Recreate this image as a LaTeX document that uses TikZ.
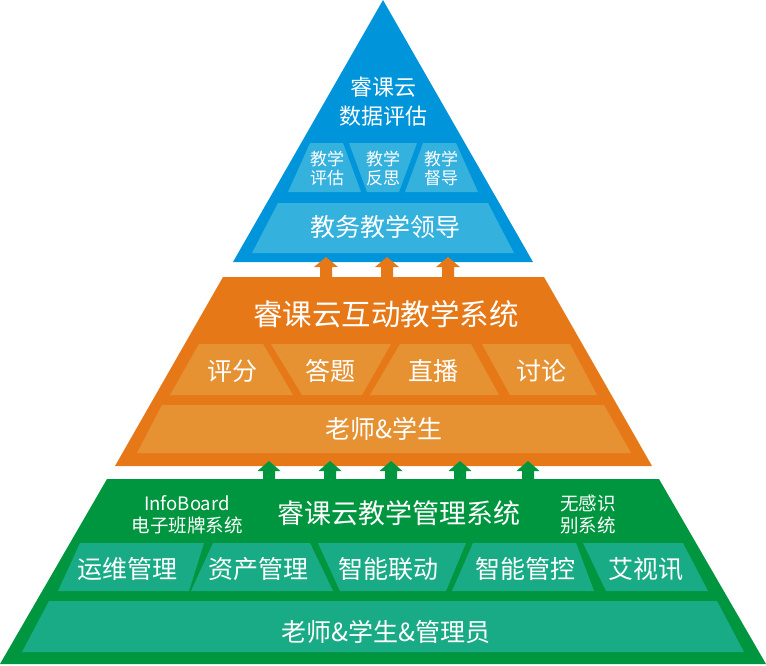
\documentclass[tikz,border=0pt]{standalone}
\usepackage{fontspec}
\usepackage{tikz}
\newfontfamily\cjk{Noto Sans CJK SC}
\definecolor{bluedark}{RGB}{0, 149, 218}
\definecolor{bluelight}{RGB}{52, 177, 221}
\definecolor{orangedark}{RGB}{230, 120, 24}
\definecolor{orangelight}{RGB}{230, 146, 51}
\definecolor{greendark}{RGB}{0, 150, 63}
\definecolor{greenlight}{RGB}{25, 171, 134}
\tikzset{
  lbl/.style={text=white, inner sep=0pt, align=center, font=\cjk\fontsize{25}{30}\selectfont},
  headlbl/.style={lbl, font=\cjk\fontsize{27}{32}\selectfont},
  smalllbl/.style={lbl, font=\cjk\fontsize{17}{19}\selectfont},
  notelbl/.style={lbl, font=\cjk\fontsize{18.5}{22}\selectfont}
}
\begin{document}
\begin{tikzpicture}[x=1pt, y=-1pt]
            \useasboundingbox (0,0) rectangle (766,665);
            \fill[bluedark]    (383,0) -- (533,262) -- (233,262) -- cycle;
            \fill[bluelight]   (278,203) -- (488,203) -- (514,253) -- (252,253) -- cycle;
            \fill[bluelight]   (310,143) -- (343,143) -- (361,192) -- (288,192) -- cycle;
            \fill[bluelight]   (349,143) -- (417,143) -- (399,192) -- (367,192) -- cycle;
            \fill[bluelight]   (423,143) -- (456,143) -- (478,192) -- (405,192) -- cycle;
            \fill[orangedark]  (223,277) -- (544,277) -- (652,466) -- (115,466) -- cycle;
            \fill[orangelight] (199,344) -- (263,344) -- (293,395) -- (170,395) -- cycle;
            \fill[orangelight] (271,344) -- (391,344) -- (362,395) -- (302,395) -- cycle;
            \fill[orangelight] (400,344) -- (471,344) -- (499,395) -- (370,395) -- cycle;
            \fill[orangelight] (482,344) -- (570,344) -- (597,395) -- (510,395) -- cycle;
            \fill[orangelight] (162,405) -- (604,405) -- (631,453) -- (137,453) -- cycle;
            \fill[greendark]   (107,479) -- (659,479) -- (766,664) -- (0,664) -- cycle;
            \fill[greenlight]  (80,543) -- (204,543) -- (189,591) -- (58,591) -- cycle;
            \fill[greenlight]  (213,543) -- (310,543) -- (333,591) -- (191,591) -- cycle;
            \fill[greenlight]  (318,543) -- (466,543) -- (446,591) -- (340,591) -- cycle;
            \fill[greenlight]  (473,543) -- (576,543) -- (594,591) -- (452,591) -- cycle;
            \fill[greenlight]  (583,543) -- (683,543) -- (708,591) -- (606,591) -- cycle;
            \fill[greenlight]  (49,601) -- (717,601) -- (744,652) -- (22,652) -- cycle;
            \foreach \ax in {326,387,448}
                \fill[orangedark] (\ax-6,277) -- (\ax-6,267) -- (\ax-12,267) -- (\ax,257)
                    -- (\ax+12,267) -- (\ax+6,267) -- (\ax+6,277) -- cycle;
            \foreach \ax in {269,330,391,460,528}
                \fill[greendark] (\ax-6,479) -- (\ax-6,471) -- (\ax-11.5,471) -- (\ax,461)
                    -- (\ax+11.5,471) -- (\ax+6,471) -- (\ax+6,479) -- cycle;
            \node[lbl, font=\cjk\fontsize{22}{29}\selectfont] (evaltitle) at (383,102) {睿课云\\数据评估};
            \node[smalllbl] (evalassess)  at (327,168) {教学\\评估};
            \node[smalllbl] (evalreflect) at (383,168) {教学\\反思};
            \node[smalllbl] (evalsuperv)  at (441,168) {教学\\督导};
            \node[lbl] (evallead) at (385,227) {教务教学领导};
            \node[headlbl, font=\cjk\fontsize{29.5}{34}\selectfont] (teachtitle) at (386,314) {睿课云互动教学系统};
            \node[lbl] (teachscore)   at (232,371) {评分};
            \node[lbl] (teachanswer)  at (330,371) {答题};
            \node[lbl] (teachlive)    at (433,371) {直播};
            \node[lbl] (teachdiscuss) at (541,371) {讨论};
            \node[lbl] (teachusers)   at (384,429) {老师\&学生};
            \node[notelbl] (mgmtboard) at (187,515) {InfoBoard\\电子班牌系统};
            \node[headlbl] (mgmttitle) at (399,513) {睿课云教学管理系统};
            \node[notelbl, anchor=west, align=left] (mgmtface) at (560,514) {无感识\\别系统};
            \node[lbl] (mgmtops)     at (127,569) {运维管理};
            \node[lbl] (mgmtasset)   at (258,569) {资产管理};
            \node[lbl] (mgmtlink)    at (388,569) {智能联动};
            \node[lbl] (mgmtcontrol) at (525,569) {智能管控};
            \node[lbl] (mgmtvideo)   at (646,569) {艾视讯};
            \node[lbl] (mgmtusers)   at (386,632) {老师\&学生\&管理员};
        \end{tikzpicture}
\end{document}
